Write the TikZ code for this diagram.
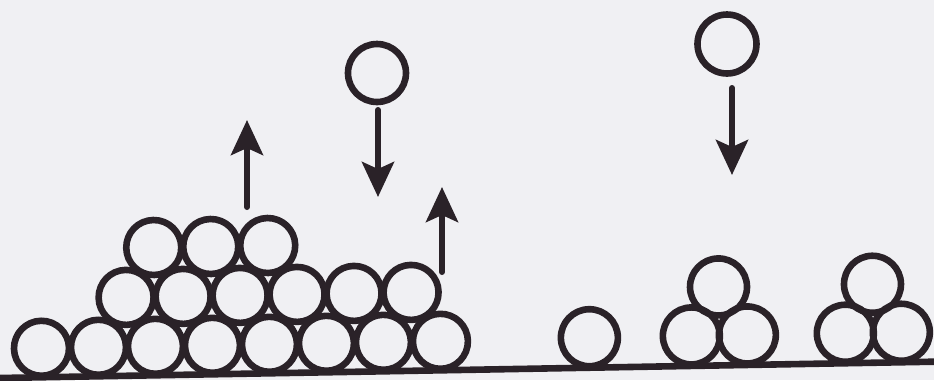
\documentclass[tikz,border=0pt]{standalone}
\usetikzlibrary{arrows.meta}
\definecolor{tinta}{RGB}{42,34,40}
\definecolor{papel}{RGB}{240,240,243}
\begin{document}
\begin{tikzpicture}[line width=0.066cm, color=tinta, line cap=round, line join=round,
    flecha/.style={line width=0.06cm, -{Stealth[length=3.5mm, width=3.2mm, inset=0.7mm]}}]
  \useasboundingbox (0,0) rectangle (9.34,3.80);
  \fill[papel] (0,0) rectangle (9.34,3.80);
  % el suelo y los montones, algo torcidos como en el papel
  \begin{scope}[shift={(0,0.02)}, rotate=1]
    \draw (0,0) -- (9.45,0);
    % el montón grande, tres filas
    \foreach \k in {0,...,7} { \draw (0.42+0.57*\k,0.29) circle (0.275); }
    \foreach \k in {1,...,6} { \draw (0.705+0.57*\k,0.784) circle (0.275); }
    \foreach \k in {2,3,4} { \draw (0.42+0.57*\k,1.278) circle (0.275); }
    % a la derecha: uno suelto y dos de tres
    \draw (5.90,0.30) circle (0.285);
    \foreach \x in {7.20,8.74} {
      \draw (\x-0.28,0.30) circle (0.285);
      \draw (\x+0.28,0.30) circle (0.285);
      \draw (\x,0.785) circle (0.285);
    }
  \end{scope}
  % los que caen
  \draw (3.77,3.07) circle (0.29);
  \draw (7.27,3.36) circle (0.295);
  \draw[flecha] (3.78,2.70) -- (3.78,1.83);
  \draw[flecha] (7.32,2.92) -- (7.32,2.05);
  % los que saltan
  \draw[flecha] (2.47,1.73) -- (2.47,2.60);
  \draw[flecha] (4.42,1.08) -- (4.42,1.93);
\end{tikzpicture}
\end{document}
